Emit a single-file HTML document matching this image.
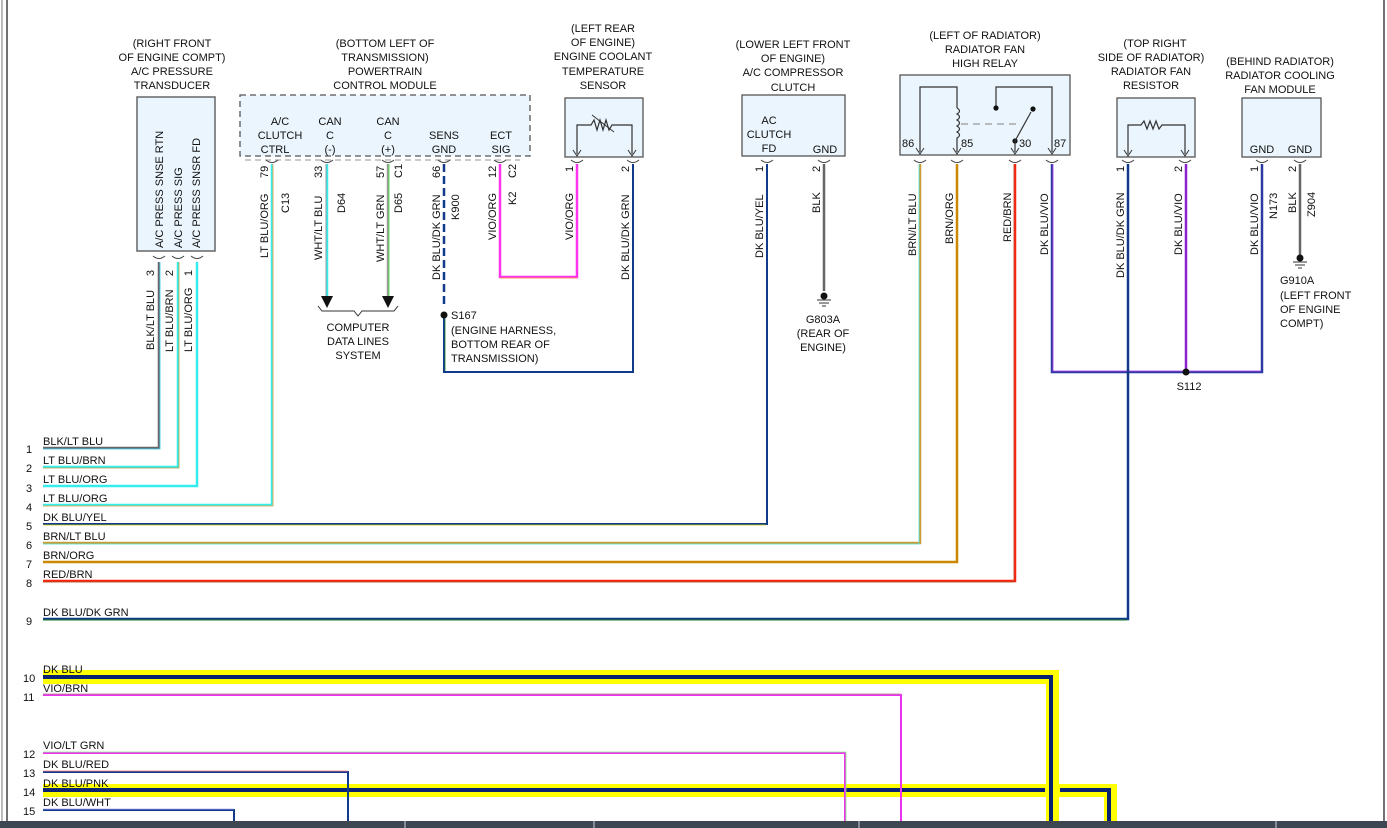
<!DOCTYPE html>
<html><head><meta charset="utf-8"><style>
html,body{margin:0;padding:0;background:#fff;}
svg{display:block;font-family:"Liberation Sans",Arial,sans-serif;}
text{font-size:11px;fill:#111;}
.c{text-anchor:middle;}
</style></head><body>
<svg width="1387" height="828" viewBox="0 0 1387 828" xmlns="http://www.w3.org/2000/svg">
<!-- borders -->
<line x1="2" y1="0" x2="2" y2="828" stroke="#777" stroke-width="1"/>
<line x1="7" y1="0" x2="7" y2="828" stroke="#444" stroke-width="1.5"/>
<line x1="1384" y1="0" x2="1384" y2="828" stroke="#444" stroke-width="1.5"/>

<!-- ===== A/C pressure transducer ===== -->
<g class="c">
<text x="172" y="47" class="c">(RIGHT FRONT</text>
<text x="172" y="61" class="c">OF ENGINE COMPT)</text>
<text x="172" y="75" class="c">A/C PRESSURE</text>
<text x="172" y="89" class="c">TRANSDUCER</text>
</g>
<rect x="137" y="97" width="78" height="154" fill="#eaf5fd" stroke="#666" stroke-width="1.5"/>
<text transform="translate(163,248) rotate(-90)">A/C PRESS SNSE RTN</text>
<text transform="translate(182,248) rotate(-90)">A/C PRESS SIG</text>
<text transform="translate(200,248) rotate(-90)">A/C PRESS SNSR FD</text>

<!-- ===== PCM ===== -->
<text x="385" y="47" class="c">(BOTTOM LEFT OF</text>
<text x="385" y="61" class="c">TRANSMISSION)</text>
<text x="385" y="75" class="c">POWERTRAIN</text>
<text x="385" y="89" class="c">CONTROL MODULE</text>
<rect x="240" y="95" width="290" height="61" fill="#eaf5fd" stroke="#555" stroke-width="1.3" stroke-dasharray="6,4"/>
<text x="280" y="125" class="c">A/C</text><text x="280" y="139" class="c">CLUTCH</text><text x="275" y="153" class="c">CTRL</text>
<text x="330" y="125" class="c">CAN</text><text x="330" y="139" class="c">C</text><text x="330" y="153" class="c">(-)</text>
<text x="388" y="125" class="c">CAN</text><text x="388" y="139" class="c">C</text><text x="388" y="153" class="c">(+)</text>
<text x="444" y="139" class="c">SENS</text><text x="444" y="153" class="c">GND</text>
<text x="501" y="139" class="c">ECT</text><text x="501" y="153" class="c">SIG</text>
<line x1="245" y1="160" x2="520" y2="160" stroke="#aaa" stroke-width="1.2" stroke-dasharray="6,4"/>

<!-- ===== ECT sensor ===== -->
<text x="603" y="32" class="c">(LEFT REAR</text>
<text x="603" y="46" class="c">OF ENGINE)</text>
<text x="603" y="60" class="c">ENGINE COOLANT</text>
<text x="603" y="75" class="c">TEMPERATURE</text>
<text x="603" y="89" class="c">SENSOR</text>
<rect x="565" y="98" width="78" height="59" fill="#eaf5fd" stroke="#555" stroke-width="1.3"/>
<polyline points="577,154 577,125 591,125 594,120 597,130 600,120 603,130 606,120 609,130 612,125 632,125 632,154" fill="none" stroke="#333" stroke-width="1.2"/>
<line x1="592" y1="115" x2="614" y2="132" stroke="#333" stroke-width="1"/>
<path d="M573,150 L577,156 L581,150 M628,150 L632,156 L636,150" fill="none" stroke="#333"/>

<!-- ===== AC compressor clutch ===== -->
<text x="793" y="48" class="c">(LOWER LEFT FRONT</text>
<text x="793" y="62" class="c">OF ENGINE)</text>
<text x="793" y="76" class="c">A/C COMPRESSOR</text>
<text x="793" y="91" class="c">CLUTCH</text>
<rect x="742" y="95" width="103" height="61" fill="#eaf5fd" stroke="#555" stroke-width="1.3"/>
<text x="769" y="124" class="c">AC</text><text x="769" y="138" class="c">CLUTCH</text><text x="769" y="152" class="c">FD</text>
<text x="825" y="153" class="c">GND</text>

<!-- ===== Relay ===== -->
<text x="985" y="39" class="c">(LEFT OF RADIATOR)</text>
<text x="985" y="53" class="c">RADIATOR FAN</text>
<text x="985" y="67" class="c">HIGH RELAY</text>
<rect x="900" y="75" width="170" height="80" fill="#eaf5fd" stroke="#555" stroke-width="1.3"/>
<polyline points="920,152 920,87 957,87 957,108" fill="none" stroke="#333" stroke-width="1.2"/>
<path d="M957,108 q5,3 0,6 q5,3 0,6 q5,3 0,6 q5,3 0,6 q5,3 0,6 L957,152" fill="none" stroke="#333" stroke-width="1.2"/>
<line x1="961" y1="124" x2="1018" y2="124" stroke="#999" stroke-width="1.2" stroke-dasharray="7,5"/>
<polyline points="996,108 996,87 1052,87 1052,152" fill="none" stroke="#333" stroke-width="1.2"/>
<circle cx="996" cy="108" r="2.6" fill="#111"/>
<circle cx="1033" cy="109" r="2.6" fill="#111"/>
<circle cx="1015" cy="141" r="2.6" fill="#111"/>
<line x1="1015" y1="141" x2="1031" y2="112" stroke="#333" stroke-width="1.2"/>
<line x1="1015" y1="141" x2="1015" y2="152" stroke="#333" stroke-width="1.2"/>
<text x="902" y="147">86</text><text x="961" y="147">85</text><text x="1019" y="147">30</text><text x="1054" y="147">87</text>
<path d="M916,148 L920,154 L924,148 M953,148 L957,154 L961,148 M1011,148 L1015,154 L1019,148 M1048,148 L1052,154 L1056,148" fill="none" stroke="#333"/>

<!-- ===== Fan resistor ===== -->
<text x="1155" y="47" class="c">(TOP RIGHT</text>
<text x="1151" y="61" class="c">SIDE OF RADIATOR)</text>
<text x="1151" y="75" class="c">RADIATOR FAN</text>
<text x="1151" y="89" class="c">RESISTOR</text>
<rect x="1117" y="98" width="78" height="59" fill="#eaf5fd" stroke="#555" stroke-width="1.3"/>
<polyline points="1128,154 1128,125 1141,125 1144,121 1147,129 1150,121 1153,129 1156,121 1159,129 1162,125 1185,125 1185,154" fill="none" stroke="#333" stroke-width="1.2"/>
<path d="M1124,150 L1128,156 L1132,150 M1181,150 L1185,156 L1189,150" fill="none" stroke="#333"/>

<!-- ===== Fan module ===== -->
<text x="1280" y="65" class="c">(BEHIND RADIATOR)</text>
<text x="1280" y="79" class="c">RADIATOR COOLING</text>
<text x="1280" y="93" class="c">FAN MODULE</text>
<rect x="1242" y="98" width="79" height="59" fill="#eaf5fd" stroke="#555" stroke-width="1.3"/>
<text x="1262" y="153" class="c">GND</text><text x="1300" y="153" class="c">GND</text>

<!-- connector cups -->
<g fill="none" stroke="#444" stroke-width="1">
<path d="M153,256 q6,5 12,0 M172,256 q6,5 12,0 M191,256 q6,5 12,0"/>
<path d="M266,160 q6,5 12,0 M321,160 q6,5 12,0 M382,160 q6,5 12,0 M438,160 q6,5 12,0 M494,160 q6,5 12,0"/>
<path d="M571,160 q6,5 12,0 M627,160 q6,5 12,0 M761,160 q6,5 12,0 M818,160 q6,5 12,0"/>
<path d="M914,160 q6,5 12,0 M951,160 q6,5 12,0 M1009,160 q6,5 12,0 M1046,160 q6,5 12,0"/>
<path d="M1122,160 q6,5 12,0 M1179,160 q6,5 12,0 M1256,160 q6,5 12,0 M1294,160 q6,5 12,0"/>
</g>

<!-- ===== wires (left group) ===== -->
<g fill="none">
<polyline points="159,262 159,448 43,448" stroke="#666" stroke-width="2.5"/>
<polyline points="160,262 160,449 43,449" stroke="#4df" stroke-width="0.8"/>
<polyline points="178,262 178,467 43,467" stroke="#3ee" stroke-width="2.5"/>
<polyline points="179,262 179,468 43,468" stroke="#c93" stroke-width="0.8"/>
<polyline points="197,262 197,486 43,486" stroke="#3ee" stroke-width="2.5"/>
<polyline points="272,164 272,505 43,505" stroke="#3ee" stroke-width="2.5"/>
<polyline points="273,164 273,506 43,506" stroke="#f93" stroke-width="0.8"/>
<!-- CAN -->
<line x1="327" y1="164" x2="327" y2="298" stroke="#3ee" stroke-width="2.5"/>
<line x1="326" y1="164" x2="326" y2="298" stroke="#999" stroke-width="1"/>
<line x1="388" y1="164" x2="388" y2="298" stroke="#999" stroke-width="2.5"/>
<line x1="389" y1="164" x2="389" y2="298" stroke="#5d5" stroke-width="1"/>
<!-- sens gnd -->
<line x1="444" y1="164" x2="444" y2="305" stroke="#123a8a" stroke-width="2.5" stroke-dasharray="8,4"/>
<polyline points="444,318 444,372 633,372 633,164" stroke="#123a8a" stroke-width="2"/>
<polyline points="445,318 445,371" stroke="#1a7a2a" stroke-width="0.8"/>
<!-- ECT sig -->
<polyline points="500,164 500,277 577,277 577,164" stroke="#f3e" stroke-width="2.5"/>
<polyline points="500,278 577,278" stroke="#f93" stroke-width="0.8"/>
<!-- AC clutch -->
<polyline points="767,164 767,524 43,524" stroke="#123a8a" stroke-width="2"/>
<polyline points="43,525 766,525" stroke="#cc0" stroke-width="0.7"/>
<line x1="824" y1="164" x2="824" y2="291" stroke="#666" stroke-width="2.5"/>
<!-- relay -->
<polyline points="920,164 920,543 43,543" stroke="#c93" stroke-width="2.5"/>
<polyline points="919,164 919,544 43,544" stroke="#4ee" stroke-width="0.8"/>
<polyline points="957,164 957,562 43,562" stroke="#c80" stroke-width="2.5"/>
<polyline points="1015,164 1015,581 43,581" stroke="#f21" stroke-width="2.5"/>
<polyline points="1014,164 1014,582 43,582" stroke="#a52" stroke-width="0.7"/>
<polyline points="1052,164 1052,372 1262,372 1262,164" stroke="#2a3aa0" stroke-width="2.5"/>
<polyline points="1053,164 1053,371 1261,371" stroke="#c4f" stroke-width="0.7"/>
<!-- resistor -->
<polyline points="1128,164 1128,619 43,619" stroke="#123a8a" stroke-width="2.5"/>
<polyline points="43,620 1127,620" stroke="#1a7a2a" stroke-width="1"/>
<line x1="1186" y1="164" x2="1186" y2="372" stroke="#82c" stroke-width="2.5"/>
<line x1="1300" y1="164" x2="1300" y2="255" stroke="#666" stroke-width="2.5"/>

<!-- bottom wires -->
<rect x="43" y="670" width="1016" height="14" fill="#ff0" stroke="none"/>
<rect x="1046" y="670" width="13" height="151" fill="#ff0" stroke="none"/>
<rect x="43" y="784" width="1074" height="13" fill="#ff0" stroke="none"/>
<rect x="1104" y="784" width="13" height="37" fill="#ff0" stroke="none"/>
<polyline points="43,677 1051,677 1051,821" stroke="#0a2272" stroke-width="4"/>
<polyline points="43,790 1045,790" stroke="#0a2272" stroke-width="4"/>
<polyline points="1060,790 1109,790 1109,821" stroke="#0a2272" stroke-width="4"/>
<polyline points="43,695 901,695 901,821" stroke="#e3e" stroke-width="2"/>
<line x1="43" y1="694" x2="901" y2="694" stroke="#a88" stroke-width="0.8"/>
<polyline points="43,753 845,753 845,821" stroke="#e3e" stroke-width="2"/>
<polyline points="43,752 846,752 846,821" stroke="#8e8" stroke-width="0.8"/>
<polyline points="43,772 348,772 348,821" stroke="#123a8a" stroke-width="2"/>
<line x1="43" y1="771" x2="348" y2="771" stroke="#f77" stroke-width="0.8"/>
<polyline points="43,810 234,810 234,821" stroke="#123a8a" stroke-width="2"/>
<line x1="43" y1="809" x2="234" y2="809" stroke="#aaf" stroke-width="0.8"/>
</g>

<!-- arrows, brace, splices, grounds -->
<path d="M321,296 L333,296 L327,308 Z M382,296 L394,296 L388,308 Z" fill="#111"/>
<path d="M318,306 L322,311 L354,311 L358,316 L362,311 L394,311 L398,306" fill="none" stroke="#333"/>
<text x="358" y="331" class="c">COMPUTER</text>
<text x="358" y="345" class="c">DATA LINES</text>
<text x="358" y="359" class="c">SYSTEM</text>
<circle cx="444" cy="315" r="3.5" fill="#111"/>
<text x="451" y="319">S167</text>
<text x="451" y="334">(ENGINE HARNESS,</text>
<text x="451" y="348">BOTTOM REAR OF</text>
<text x="451" y="362">TRANSMISSION)</text>
<circle cx="824" cy="296" r="3.5" fill="#111"/>
<path d="M817,300 h14 M819,303 h10 M822,306 h4" stroke="#333"/>
<text x="823" y="323" class="c">G803A</text>
<text x="823" y="337" class="c">(REAR OF</text>
<text x="823" y="351" class="c">ENGINE)</text>
<circle cx="1186" cy="372" r="3.5" fill="#111"/>
<text x="1189" y="390" class="c">S112</text>
<circle cx="1300" cy="258" r="3.5" fill="#111"/>
<path d="M1293,262 h14 M1295,265 h10 M1298,268 h4" stroke="#333"/>
<text x="1280" y="284">G910A</text>
<text x="1280" y="299">(LEFT FRONT</text>
<text x="1280" y="313">OF ENGINE</text>
<text x="1280" y="327">COMPT)</text>

<!-- rotated wire labels -->
<g>
<text transform="translate(154,270) rotate(-90)" text-anchor="end">3</text>
<text transform="translate(173,270) rotate(-90)" text-anchor="end">2</text>
<text transform="translate(192,270) rotate(-90)" text-anchor="end">1</text>
<text transform="translate(154,350) rotate(-90)">BLK/LT BLU</text>
<text transform="translate(173,352) rotate(-90)">LT BLU/BRN</text>
<text transform="translate(192,352) rotate(-90)">LT BLU/ORG</text>
<text transform="translate(268,178) rotate(-90)">79</text>
<text transform="translate(268,258) rotate(-90)">LT BLU/ORG</text>
<text transform="translate(289,213) rotate(-90)">C13</text>
<text transform="translate(322,178) rotate(-90)">33</text>
<text transform="translate(322,260) rotate(-90)">WHT/LT BLU</text>
<text transform="translate(345,213) rotate(-90)">D64</text>
<text transform="translate(384,178) rotate(-90)">57</text>
<text transform="translate(384,262) rotate(-90)">WHT/LT GRN</text>
<text transform="translate(402,178) rotate(-90)">C1</text>
<text transform="translate(402,213) rotate(-90)">D65</text>
<text transform="translate(440,178) rotate(-90)">66</text>
<text transform="translate(440,280) rotate(-90)">DK BLU/DK GRN</text>
<text transform="translate(459,220) rotate(-90)">K900</text>
<text transform="translate(496,178) rotate(-90)">12</text>
<text transform="translate(496,240) rotate(-90)">VIO/ORG</text>
<text transform="translate(516,178) rotate(-90)">C2</text>
<text transform="translate(516,205) rotate(-90)">K2</text>
<text transform="translate(573,172) rotate(-90)">1</text>
<text transform="translate(573,240) rotate(-90)">VIO/ORG</text>
<text transform="translate(629,172) rotate(-90)">2</text>
<text transform="translate(629,280) rotate(-90)">DK BLU/DK GRN</text>
<text transform="translate(763,172) rotate(-90)">1</text>
<text transform="translate(763,258) rotate(-90)">DK BLU/YEL</text>
<text transform="translate(820,172) rotate(-90)">2</text>
<text transform="translate(820,213) rotate(-90)">BLK</text>
<text transform="translate(916,256) rotate(-90)">BRN/LT BLU</text>
<text transform="translate(953,244) rotate(-90)">BRN/ORG</text>
<text transform="translate(1011,242) rotate(-90)">RED/BRN</text>
<text transform="translate(1048,255) rotate(-90)">DK BLU/VIO</text>
<text transform="translate(1124,172) rotate(-90)">1</text>
<text transform="translate(1124,278) rotate(-90)">DK BLU/DK GRN</text>
<text transform="translate(1182,172) rotate(-90)">2</text>
<text transform="translate(1182,255) rotate(-90)">DK BLU/VIO</text>
<text transform="translate(1258,172) rotate(-90)">1</text>
<text transform="translate(1258,255) rotate(-90)">DK BLU/VIO</text>
<text transform="translate(1277,219) rotate(-90)">N173</text>
<text transform="translate(1296,172) rotate(-90)">2</text>
<text transform="translate(1296,213) rotate(-90)">BLK</text>
<text transform="translate(1315,217) rotate(-90)">Z904</text>
</g>

<!-- horizontal wire labels -->
<g>
<text x="43" y="445">BLK/LT BLU</text><text x="26" y="453">1</text>
<text x="43" y="464">LT BLU/BRN</text><text x="26" y="472">2</text>
<text x="43" y="483">LT BLU/ORG</text><text x="26" y="492">3</text>
<text x="43" y="502">LT BLU/ORG</text><text x="26" y="511">4</text>
<text x="43" y="521">DK BLU/YEL</text><text x="26" y="530">5</text>
<text x="43" y="540">BRN/LT BLU</text><text x="26" y="549">6</text>
<text x="43" y="559">BRN/ORG</text><text x="26" y="568">7</text>
<text x="43" y="578">RED/BRN</text><text x="26" y="587">8</text>
<text x="43" y="616">DK BLU/DK GRN</text><text x="26" y="625">9</text>
<text x="43" y="673">DK BLU</text><text x="23" y="682">10</text>
<text x="43" y="692">VIO/BRN</text><text x="23" y="701">11</text>
<text x="43" y="749">VIO/LT GRN</text><text x="23" y="758">12</text>
<text x="43" y="768">DK BLU/RED</text><text x="23" y="777">13</text>
<text x="43" y="787">DK BLU/PNK</text><text x="23" y="796">14</text>
<text x="43" y="806">DK BLU/WHT</text><text x="23" y="815">15</text>
</g>

<!-- bottom bar -->
<rect x="0" y="821" width="1387" height="7" fill="#3e4652"/>
<g stroke="#cfd3d8" stroke-width="1">
<line x1="405" y1="821" x2="405" y2="828"/><line x1="594" y1="821" x2="594" y2="828"/>
<line x1="859" y1="821" x2="859" y2="828"/><line x1="1276" y1="821" x2="1276" y2="828"/>
</g>
</svg>
</body></html>
